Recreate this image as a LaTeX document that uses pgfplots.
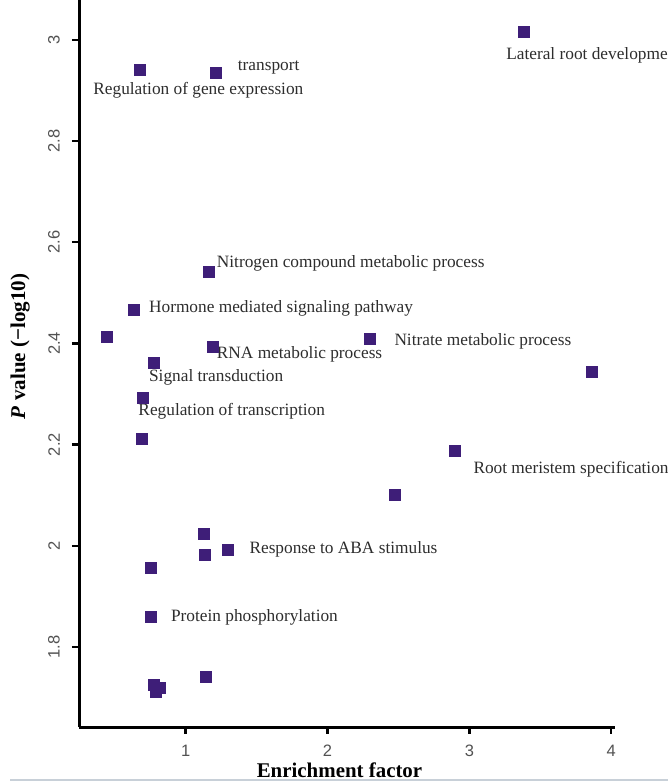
\documentclass[border=0pt]{standalone}
\usepackage{pgfplots}
\pgfplotsset{compat=1.18}
\usepackage{fontspec}
\setmainfont{Liberation Serif}
\newfontfamily\ticksans{Liberation Sans}
\definecolor{mk}{RGB}{62,30,120}
\definecolor{lbl}{RGB}{45,45,45}
\begin{document}
\begin{tikzpicture}
\useasboundingbox (0pt,0pt) rectangle (668pt,781pt);
\clip (0pt,0pt) rectangle (668pt,781pt);
\begin{axis}[
  at={(79pt,54pt)}, anchor=south west,
  scale only axis, width=536pt, height=762pt,
  xmin=0.248, xmax=4.027, ymin=1.642, ymax=3.148,
  axis x line*=bottom, axis y line*=left,
  axis line style={line width=3pt, -},
  xtick={1,2,3,4}, xticklabels={1,2,3,4},
  ytick={1.8,2,2.2,2.4,2.6,2.8,3},
  yticklabels={1.8,2,2.2,2.4,2.6,2.8,3},
  tick align=outside, major tick length=7pt,
  tick style={line width=2.4pt, black},
  ticklabel style={font=\ticksans\fontsize{16.5}{18}\selectfont, text=black!68, inner sep=0pt},
  xticklabel style={anchor=north, yshift=-11pt},
  yticklabel style={xshift=-12pt, rotate=90, anchor=south},
  clip=false,
]
\addplot[only marks, mark=square*, mark size=5.5pt, color=mk, mark options={fill=mk, draw=mk}] coordinates {
(0.678,2.942) (1.211,2.936) (3.381,3.016) (1.164,2.541) (0.631,2.466)
(0.443,2.414) (1.188,2.394) (0.772,2.362) (0.697,2.293) (0.690,2.212)
(2.300,2.410) (3.863,2.344) (2.899,2.188) (2.476,2.102) (1.124,2.025)
(1.136,1.982) (1.296,1.993) (0.753,1.956) (0.753,1.860) (1.143,1.742)
(0.772,1.725) (0.788,1.712) (0.819,1.719)
};
\begin{scope}[every node/.style={anchor=base west, inner sep=0pt, text=lbl, font=\fontsize{17.3}{20}\selectfont}]
\node at (axis cs:1.367,2.939) {transport};
\node at (axis cs:0.348,2.892) {Regulation of gene expression};
\node at (axis cs:3.259,2.961) {Lateral root development};
\node at (axis cs:1.219,2.551) {Nitrogen compound metabolic process};
\node at (axis cs:0.741,2.462) {Hormone mediated signaling pathway};
\node at (axis cs:1.219,2.371) {RNA metabolic process};
\node at (axis cs:0.741,2.325) {Signal transduction};
\node at (axis cs:0.666,2.257) {Regulation of transcription};
\node at (axis cs:2.471,2.395) {Nitrate metabolic process};
\node at (axis cs:3.028,2.143) {Root meristem specification};
\node at (axis cs:1.449,1.985) {Response to ABA stimulus};
\node at (axis cs:0.896,1.850) {Protein phosphorylation};
\end{scope}
\end{axis}
\node[anchor=base, inner sep=0pt, font=\bfseries\fontsize{20.9}{24}\selectfont] at (339.5pt,3pt) {Enrichment factor};
\node[rotate=90, anchor=base, inner sep=0pt, font=\bfseries\fontsize{21}{24}\selectfont] at (25pt,434.5pt) {\textit{P} value (−log10)};
\draw[line width=1.5pt, color={rgb,255:red,200;green,208;blue,216}] (10pt,0.75pt) -- (668pt,0.75pt);
\end{tikzpicture}
\end{document}
